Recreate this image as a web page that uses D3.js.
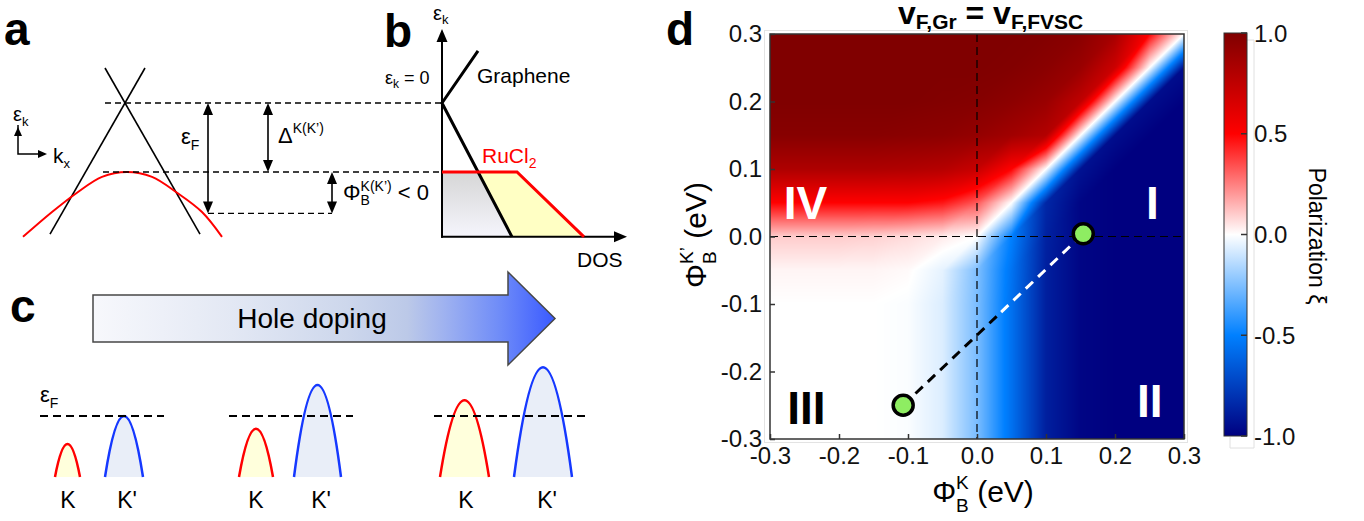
<!DOCTYPE html>
<html>
<head>
<meta charset="utf-8">
<script src="https://cdn.jsdelivr.net/npm/d3@7"></script>
<style>
  body { margin: 0; background: #fff; }
  svg { display: block; font-family: "Liberation Sans", Arial, Helvetica, sans-serif; }
</style>
</head>
<body>
<svg id="fig" width="1364" height="521"></svg>
<script>
// ---------------- data ----------------
// panel a : graphene cone end points (k, E), RuCl2 band, energy levels
const coneA = [[[-0.2, 0.507], [0.75, -1.9]], [[0.2, 0.507], [-0.75, -1.9]]];
const bandA = [[-1.02, -1.94], [-0.73, -1.58], [-0.48, -1.30], [-0.23, -1.07], [0.02, -1.0],
               [0.27, -1.07], [0.52, -1.30], [0.77, -1.58], [0.97, -1.94]];
const levelE = [0, -1, -1.6];            // Dirac point, band top, Fermi level
const levelFromK = [-0.2, -0.22, 0.83];
const gapArrows = [[0.83, 0, -1.6], [1.43, 0, -1], [2.07, -1, -1.6]];   // k, E1, E2

// panel b : density of states (dos, E)
const dosGraphene = [[0.72, 0.754], [0, 0], [1.4, -1.94]];
const dosRuCl2 = [[0, -1], [1.5, -1], [2.84, -1.94]];
const dosCross = 0.73;

// panel c : valley band tops (relative to eF) and widths
const topK   = [-0.46, -0.21, 0.26];
const topKp  = [0.0, 0.51, 0.80];
const widthK  = [0.50, 0.68, 0.98];
const widthKp = [0.76, 0.94, 1.16];

// panel d : polarization map, rows y = 0.3 -> -0.3, columns x = -0.3 -> 0.3
const phiGrid = [-0.3, -0.25, -0.2, -0.15, -0.1, -0.05, 0, 0.05, 0.1, 0.15, 0.2, 0.25, 0.3];
const polGrid = [
  [1, 1, 1, 1, 1, 1, 1, 1, 0.99, 0.96, 0.85, 0.5, 0],
  [1, 1, 1, 1, 1, 1, 1, 0.99, 0.96, 0.9, 0.7, 0, -0.95],
  [1, 1, 1, 1, 1, 0.99, 0.98, 0.95, 0.9, 0.75, 0, -0.95, -1],
  [0.97, 0.97, 0.97, 0.97, 0.96, 0.95, 0.92, 0.87, 0.8, 0, -0.95, -1, -1],
  [0.82, 0.82, 0.82, 0.82, 0.81, 0.79, 0.72, 0.5, 0, -0.93, -1, -1, -1],
  [0.5, 0.5, 0.5, 0.5, 0.5, 0.46, 0.33, 0, -0.85, -0.98, -1, -1, -1],
  [0.1, 0.1, 0.1, 0.09, 0.07, 0.04, 0, -0.5, -0.87, -0.98, -1, -1, -1],
  [0.02, 0.02, 0.02, 0.02, 0.01, -0.05, -0.25, -0.55, -0.88, -0.98, -1, -1, -1],
  [0, 0, 0, 0, -0.01, -0.07, -0.26, -0.56, -0.88, -0.98, -1, -1, -1],
  [0, 0, 0, 0, -0.01, -0.07, -0.26, -0.56, -0.88, -0.98, -1, -1, -1],
  [0, 0, 0, 0, -0.01, -0.07, -0.26, -0.56, -0.88, -0.98, -1, -1, -1],
  [0, 0, 0, 0, -0.01, -0.07, -0.26, -0.56, -0.88, -0.98, -1, -1, -1],
  [0, 0, 0, 0, -0.01, -0.07, -0.26, -0.56, -0.88, -0.98, -1, -1, -1]
];
const tickD = [-0.3, -0.2, -0.1, 0, 0.1, 0.2, 0.3];
const cbTicks = [1.0, 0.5, 0.0, -0.5, -1.0];
const dots = [[0.154, 0.004], [-0.107, -0.25]];
const pathBlack = [[-0.107, -0.25], [0.035, -0.112]];
const pathWhite = [[0.035, -0.112], [0.154, 0.004]];
const regionLabels = [['IV', -0.28, 0.026, '#fff'], ['I', 0.245, 0.026, '#fff'],
                      ['III', -0.275, -0.278, '#000'], ['II', 0.232, -0.267, '#fff']];

// ---------------- helpers ----------------
const svg = d3.select('#fig');
const defs = svg.append('defs');

// text made of pieces (sub / superscripts), stack: same x as previous piece
function rich(g, x, y, items, opt = {}) {
  const grp = g.append('g');
  let cx = 0, prevX = 0;
  items.forEach(it => {
    const sx = it.stack ? prevX : cx;
    const t = grp.append('text')
      .attr('x', sx).attr('y', it.dy || 0)
      .attr('font-size', it.size)
      .attr('font-weight', opt.weight || 'normal')
      .attr('fill', opt.fill || '#000')
      .style('white-space', 'pre')
      .text(it.t);
    const w = t.node().getComputedTextLength();
    if (it.stack) cx = Math.max(cx, sx + w);
    else { prevX = sx; cx = sx + w; }
  });
  const shift = opt.anchor === 'middle' ? -cx / 2 : 0;
  grp.attr('transform', 'translate(' + x + ',' + y + ') rotate(' + (opt.rotate || 0) + ') translate(' + shift + ',0)');
  return grp;
}

// filled triangle, tip at (x,y) pointing along (dx,dy)
function head(g, x, y, dx, dy, L, W) {
  const nx = -dy, ny = dx;
  const pts = [[x, y], [x - L * dx + W / 2 * nx, y - L * dy + W / 2 * ny], [x - L * dx - W / 2 * nx, y - L * dy - W / 2 * ny]];
  g.append('path').attr('d', 'M' + pts.map(p => p.join(',')).join('L') + 'Z').attr('fill', '#000');
}

function dblArrow(g, x, y1, y2, L, W) {
  const d = y2 > y1 ? 1 : -1;
  g.append('line').attr('x1', x).attr('x2', x).attr('y1', y1 + d * L * 0.8).attr('y2', y2 - d * L * 0.8)
    .attr('stroke', '#000').attr('stroke-width', 1.6);
  head(g, x, y1, 0, -d, L, W);
  head(g, x, y2, 0, d, L, W);
}

// panel letters
[['a', 4, 45], ['b', 384, 47], ['c', 10, 322], ['d', 666, 45]].forEach(p => {
  svg.append('text').attr('x', p[1]).attr('y', p[2]).attr('font-size', 46)
    .attr('font-weight', 'bold').text(p[0]);
});

// ---------------- panel a ----------------
const xA = d3.scaleLinear().domain([-1, 1]).range([25, 225]);
const yA = d3.scaleLinear().domain([0, -1]).range([103, 172]);
const xB = d3.scaleLinear().domain([0, 1]).range([442, 492]);
const gA = svg.append('g');

coneA.forEach(l => {
  gA.append('line')
    .attr('x1', xA(l[0][0])).attr('y1', yA(l[0][1]))
    .attr('x2', xA(l[1][0])).attr('y2', yA(l[1][1]))
    .attr('stroke', '#000').attr('stroke-width', 1.6);
});
gA.append('path').datum(bandA)
  .attr('d', d3.line().x(d => xA(d[0])).y(d => yA(d[1])).curve(d3.curveCatmullRom))
  .attr('fill', 'none').attr('stroke', '#ff0000').attr('stroke-width', 2);

levelE.forEach((e, i) => {
  const x2 = i < 2 ? xB(0) : xA(gapArrows[2][0]);
  gA.append('line')
    .attr('x1', xA(levelFromK[i])).attr('x2', x2)
    .attr('y1', yA(e)).attr('y2', yA(e))
    .attr('stroke', '#000').attr('stroke-width', 1.3).attr('stroke-dasharray', '6,4');
});
gapArrows.forEach(a => dblArrow(gA, xA(a[0]), yA(a[1]), yA(a[2]), 12, 10));

// little axis icon
gA.append('path').attr('d', 'M18,125 V154 H45').attr('fill', 'none').attr('stroke', '#000').attr('stroke-width', 1.5);
head(gA, 18, 127, 0, -1, 9, 8);
head(gA, 47, 154, 1, 0, 9, 8);
rich(gA, 13, 121, [{t: 'ε', size: 20}, {t: 'k', size: 13, dy: 5}]);
rich(gA, 53, 163, [{t: 'k', size: 21}, {t: 'x', size: 13, dy: 5}]);

rich(gA, 181, 144, [{t: 'ε', size: 22}, {t: 'F', size: 14, dy: 6}]);
rich(gA, 278, 143, [{t: 'Δ', size: 22}, {t: 'K(K’)', size: 14, dy: -10}]);
rich(gA, 343, 200, [{t: 'Φ', size: 22}, {t: 'K(K’)', size: 14, dy: -9},
                    {t: 'B', size: 14, dy: 5, stack: true}, {t: ' < 0', size: 22}]);

// ---------------- panel b ----------------
const gB = svg.append('g');
const gray = defs.append('linearGradient').attr('id', 'gGray')
  .attr('x1', 0).attr('y1', 0).attr('x2', 0).attr('y2', 1);
gray.append('stop').attr('offset', 0).attr('stop-color', '#d6d6d6');
gray.append('stop').attr('offset', 1).attr('stop-color', '#f5f5fc');

const lineB = d3.line().x(d => xB(d[0])).y(d => yA(d[1]));
const eBot = dosGraphene[2][1];
gB.append('path').datum([[0, -1], [dosCross, -1], dosGraphene[2], [0, eBot]])
  .attr('d', d => lineB(d) + 'Z').attr('fill', 'url(#gGray)');
gB.append('path').datum([[dosCross, -1], dosRuCl2[1], dosRuCl2[2], dosGraphene[2]])
  .attr('d', d => lineB(d) + 'Z').attr('fill', '#ffffc4');

// axes
gB.append('line').attr('x1', xB(0)).attr('x2', xB(0)).attr('y1', yA(eBot) + 1).attr('y2', yA(1.0))
  .attr('stroke', '#000').attr('stroke-width', 2);
gB.append('line').attr('x1', xB(0) - 1).attr('x2', xB(3.5)).attr('y1', yA(eBot)).attr('y2', yA(eBot))
  .attr('stroke', '#000').attr('stroke-width', 2);
head(gB, xB(0), yA(1.072), 0, -1, 13, 11);
head(gB, xB(3.7), yA(eBot), 1, 0, 13, 11);

gB.append('path').datum(dosGraphene).attr('d', lineB)
  .attr('fill', 'none').attr('stroke', '#000').attr('stroke-width', 3).attr('stroke-linejoin', 'miter');
gB.append('path').datum(dosRuCl2).attr('d', lineB)
  .attr('fill', 'none').attr('stroke', '#ff0000').attr('stroke-width', 3);

rich(gB, 433, 20, [{t: 'ε', size: 20}, {t: 'k', size: 13, dy: 4}]);
rich(gB, 385, 84, [{t: 'ε', size: 18}, {t: 'k', size: 12, dy: 4}, {t: ' = 0', size: 18}]);
gB.append('text').attr('x', 477).attr('y', 83).attr('font-size', 21).text('Graphene');
rich(gB, 482, 163, [{t: 'RuCl', size: 21}, {t: '2', size: 14, dy: 5}], {fill: '#ff0000'});
gB.append('text').attr('x', 577).attr('y', 267).attr('font-size', 21).text('DOS');

// ---------------- panel c ----------------
const gC = svg.append('g');
const arr = {x0: 93, x1: 508, tip: 555, yMid: 318.5, body: 47, headH: 93};
const ag = defs.append('linearGradient').attr('id', 'gArrow')
  .attr('x1', 0).attr('y1', 0).attr('x2', 1).attr('y2', 0);
[[0, '#f7f8fc'], [0.3, '#e3e8f4'], [0.55, '#cdd7ec'], [0.68, '#bcc9e8'], [0.76, '#9fb2f0'],
 [0.88, '#6f8cf8'], [1, '#3a5aff']].forEach(s => ag.append('stop').attr('offset', s[0]).attr('stop-color', s[1]));
const bt = arr.yMid - arr.body / 2, bb = arr.yMid + arr.body / 2;
gC.append('path')
  .attr('d', 'M' + arr.x0 + ',' + bt + 'H' + arr.x1 + 'V' + (arr.yMid - arr.headH / 2) + 'L' + arr.tip + ',' + arr.yMid +
        'L' + arr.x1 + ',' + (arr.yMid + arr.headH / 2) + 'V' + bb + 'H' + arr.x0 + 'Z')
  .attr('fill', 'url(#gArrow)').attr('stroke', '#474747').attr('stroke-width', 1.5);
gC.append('text').attr('x', 312).attr('y', 328).attr('font-size', 28).attr('text-anchor', 'middle').text('Hole doping');

const yC = d3.scaleLinear().domain([0, -1]).range([416, 477]);
const wC = d3.scaleLinear().domain([0, 1]).range([0, 50]);
const groupLines = [[40, 164], [229, 353], [434, 585]];
const centK = [67.5, 256, 464.5], centKp = [124, 317.5, 543];
const labK = [68, 256, 466], labKp = [127, 321, 547];

function bandPath(cx, w, top, closed) {
  const yb = yC(-1), yt = yC(top);
  const p = d3.path();
  p.moveTo(cx - w / 2, yb);
  p.quadraticCurveTo(cx, 2 * yt - yb, cx + w / 2, yb);
  if (closed) p.closePath();
  return p.toString();
}
groupLines.forEach((gl, i) => {
  [[centK[i], widthK[i], topK[i], '#ffffdc', '#ff0000'],
   [centKp[i], widthKp[i], topKp[i], '#e9eef8', '#1538ff']].forEach(b => {
    gC.append('path').attr('d', bandPath(b[0], wC(b[1]), b[2], true)).attr('fill', b[3]);
    gC.append('path').attr('d', bandPath(b[0], wC(b[1]), b[2], false))
      .attr('fill', 'none').attr('stroke', b[4]).attr('stroke-width', 2.5);
  });
  gC.append('line').attr('x1', gl[0]).attr('x2', gl[1]).attr('y1', yC(0)).attr('y2', yC(0))
    .attr('stroke', '#000').attr('stroke-width', 2).attr('stroke-dasharray', '8,5');
  gC.append('text').attr('x', labK[i]).attr('y', 508).attr('font-size', 23).attr('text-anchor', 'middle').text('K');
  gC.append('text').attr('x', labKp[i]).attr('y', 508).attr('font-size', 23).attr('text-anchor', 'middle').text("K'");
});
rich(gC, 40, 402, [{t: 'ε', size: 22}, {t: 'F', size: 14, dy: 6}]);

// ---------------- panel d ----------------
const gD = svg.append('g');
const xD = d3.scaleLinear().domain([-0.3, 0.3]).range([770, 1184]);
const yD = d3.scaleLinear().domain([-0.3, 0.3]).range([439, 34]);
const colorD = d3.scaleLinear().domain([-1, -0.5, 0, 0.5, 1])
  .range(['#000080', '#0080ff', '#ffffff', '#ff0000', '#800000']).clamp(true);
const fmt = d3.formatLocale({decimal: '.', thousands: ',', grouping: [3], currency: ['', ''], minus: '-'}).format('.1f');

// light outer frame
gD.append('rect').attr('x', 764.5).attr('y', 30.5).attr('width', 423).attr('height', 412)
  .attr('fill', 'none').attr('stroke', '#e3e3e3').attr('stroke-width', 1);

// heat map: grid values shaded over triangles cut along the y = x direction
(function drawHeat() {
  const n = phiGrid.length;
  const step = phiGrid[1] - phiGrid[0];
  const left = xD(-0.3), top = yD(0.3);
  const W = Math.round(xD(0.3) - left), H = Math.round(yD(-0.3) - top);
  const cv = document.createElement('canvas');
  cv.width = W; cv.height = H;
  const ctx = cv.getContext('2d');
  const img = ctx.createImageData(W, H);
  const val = (r, c) => polGrid[n - 1 - r][c];   // r counted from the bottom row
  const lut = d3.range(1025).map(k => d3.rgb(colorD(k / 512 - 1)));
  for (let py = 0; py < H; py++) {
    let fy = (yD.invert(top + py + 0.5) - phiGrid[0]) / step;
    fy = Math.max(0, Math.min(n - 1 - 1e-9, fy));
    const j = Math.floor(fy), v = fy - j;
    for (let px = 0; px < W; px++) {
      let fx = (xD.invert(left + px + 0.5) - phiGrid[0]) / step;
      fx = Math.max(0, Math.min(n - 1 - 1e-9, fx));
      const i = Math.floor(fx), u = fx - i;
      const BL = val(j, i), BR = val(j, i + 1), TL = val(j + 1, i), TR = val(j + 1, i + 1);
      const f = v >= u ? BL + v * (TL - BL) + u * (TR - TL)
                       : BL + u * (BR - BL) + v * (TR - BR);
      const c = lut[Math.max(0, Math.min(1024, Math.round((f + 1) * 512)))];
      const p = (py * W + px) * 4;
      img.data[p] = c.r; img.data[p + 1] = c.g; img.data[p + 2] = c.b; img.data[p + 3] = 255;
    }
  }
  ctx.putImageData(img, 0, 0);
  gD.append('image').attr('x', left).attr('y', top).attr('width', W).attr('height', H)
    .attr('preserveAspectRatio', 'none').attr('href', cv.toDataURL());
})();

// zero lines
gD.append('line').attr('x1', xD(0)).attr('x2', xD(0)).attr('y1', yD(0.3)).attr('y2', yD(-0.3))
  .attr('stroke', '#000').attr('stroke-width', 1.2).attr('stroke-dasharray', '8,5');
gD.append('line').attr('x1', xD(-0.3)).attr('x2', xD(0.3)).attr('y1', yD(0)).attr('y2', yD(0))
  .attr('stroke', '#000').attr('stroke-width', 1.2).attr('stroke-dasharray', '8,5');

const lineD = d3.line().x(d => xD(d[0])).y(d => yD(d[1]));
gD.append('path').datum(pathBlack).attr('d', lineD)
  .attr('stroke', '#000').attr('stroke-width', 3).attr('stroke-dasharray', '10,7');
gD.append('path').datum(pathWhite).attr('d', lineD)
  .attr('stroke', '#fff').attr('stroke-width', 3).attr('stroke-dasharray', '10,7');
gD.selectAll('circle.dot').data(dots).enter().append('circle')
  .attr('class', 'dot')
  .attr('cx', d => xD(d[0])).attr('cy', d => yD(d[1])).attr('r', 10)
  .attr('fill', '#8eed62').attr('stroke', '#000').attr('stroke-width', 3.5);

regionLabels.forEach(r => {
  gD.append('text').attr('x', xD(r[1])).attr('y', yD(r[2])).attr('font-size', 46)
    .attr('font-weight', 'bold').attr('fill', r[3]).text(r[0]);
});

gD.append('rect').attr('x', xD(-0.3)).attr('y', yD(0.3))
  .attr('width', xD(0.3) - xD(-0.3)).attr('height', yD(-0.3) - yD(0.3))
  .attr('fill', 'none').attr('stroke', '#333').attr('stroke-width', 1.5);

const axX = gD.append('g').attr('transform', 'translate(0,' + yD(-0.3) + ')')
  .call(d3.axisBottom(xD).tickValues(tickD).tickSize(-5).tickPadding(8).tickFormat(fmt));
const axY = gD.append('g').attr('transform', 'translate(' + xD(-0.3) + ',0)')
  .call(d3.axisLeft(yD).tickValues(tickD).tickSize(-5).tickPadding(8).tickFormat(fmt));
[axX, axY].forEach(ax => {
  ax.select('.domain').remove();
  ax.selectAll('line').attr('stroke', '#333').attr('stroke-width', 1.5);
  ax.selectAll('text').attr('font-size', 24).attr('fill', '#111')
    .attr('font-family', '"Liberation Sans", Arial, sans-serif');
});

rich(gD, 898, 24, [{t: 'v', size: 32}, {t: 'F,Gr', size: 21, dy: 5}, {t: ' = ', size: 32},
                   {t: 'v', size: 32}, {t: 'F,FVSC', size: 21, dy: 5}], {weight: 'bold'});
rich(gD, 706, 235, [{t: 'Φ', size: 30}, {t: 'K’', size: 19, dy: -13}, {t: 'B', size: 19, dy: 10, stack: true},
                    {t: ' (eV)', size: 30}], {anchor: 'middle', rotate: -90});
rich(gD, 983, 502, [{t: 'Φ', size: 30}, {t: 'K', size: 19, dy: -13}, {t: 'B', size: 19, dy: 10, stack: true},
                    {t: ' (eV)', size: 30}], {anchor: 'middle'});

// colour bar
const yCB = d3.scaleLinear().domain([-1, 1]).range([436, 33]);
const cg = defs.append('linearGradient').attr('id', 'gBar')
  .attr('x1', 0).attr('y1', 0).attr('x2', 0).attr('y2', 1);
cbTicks.forEach(v => cg.append('stop').attr('offset', (1 - v) / 2).attr('stop-color', colorD(v)));
gD.append('path').attr('d', 'M1247,40 H1254 V448 H1230 V437')
  .attr('fill', 'none').attr('stroke', '#e0e0e0').attr('stroke-width', 1);
gD.append('rect').attr('x', 1224).attr('y', yCB(1)).attr('width', 23).attr('height', yCB(-1) - yCB(1))
  .attr('fill', 'url(#gBar)').attr('stroke', '#333').attr('stroke-width', 1);
cbTicks.forEach(v => {
  gD.append('line').attr('x1', 1241).attr('x2', 1247).attr('y1', yCB(v)).attr('y2', yCB(v))
    .attr('stroke', '#333').attr('stroke-width', 1.5);
  gD.append('text').attr('x', 1254).attr('y', yCB(v) + 8.5).attr('font-size', 24).attr('fill', '#111')
    .text(fmt(v));
});
rich(gD, 1309, 236, [{t: 'Polarization ξ', size: 23}], {anchor: 'middle', rotate: 90});
</script>
</body>
</html>
